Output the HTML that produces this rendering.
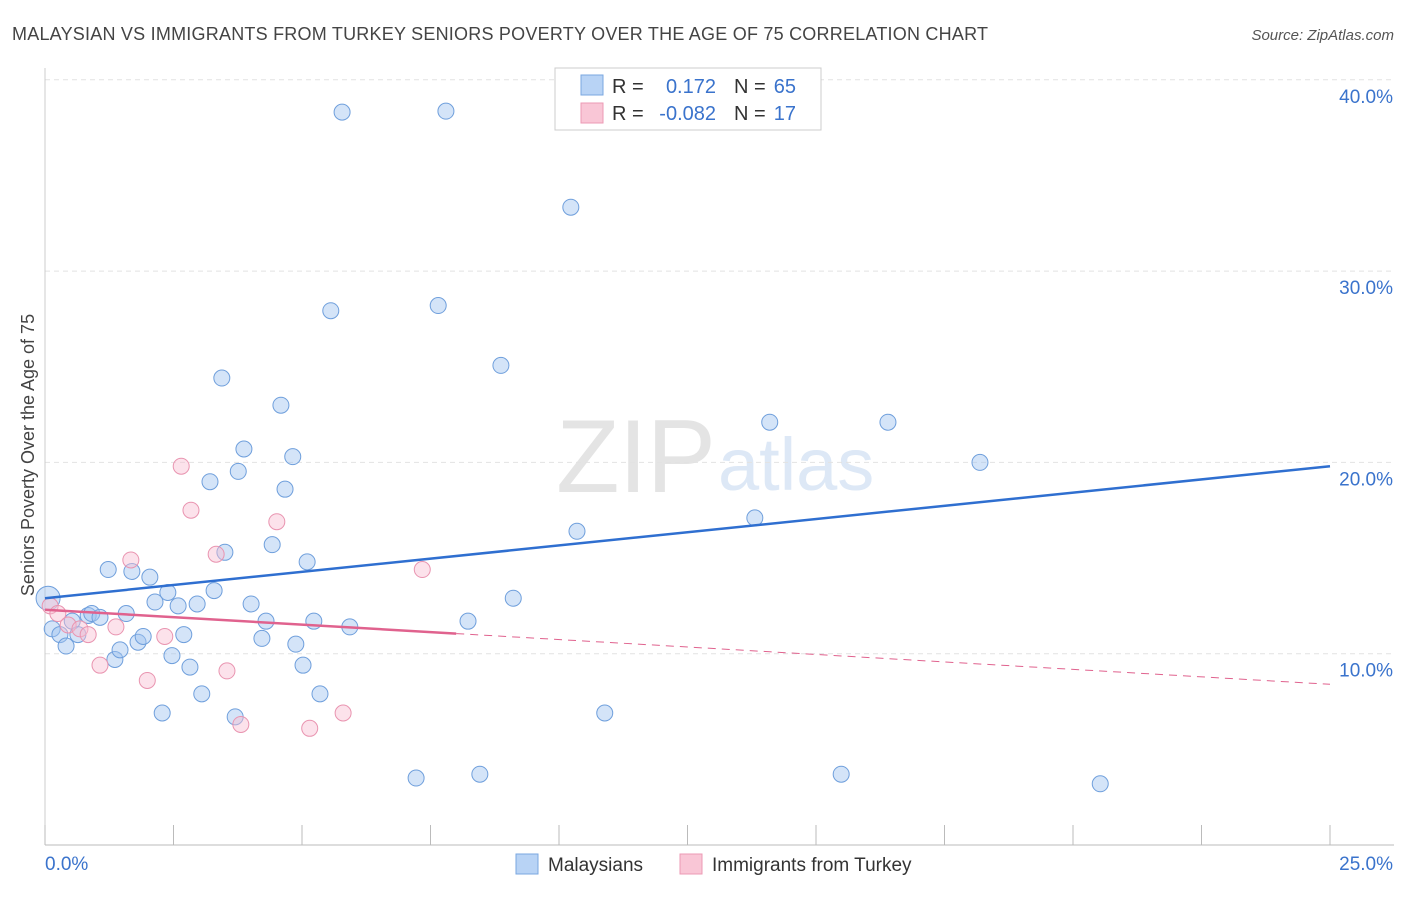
<!DOCTYPE html>
<html><head><meta charset="utf-8">
<style>
body{margin:0;background:#fff;font-family:"Liberation Sans",sans-serif;}
svg text{font-family:"Liberation Sans",sans-serif;}
</style></head>
<body>
<svg id="chart" width="1406" height="892" xmlns="http://www.w3.org/2000/svg">
<text x="12" y="40" font-size="18" fill="#444" textLength="976">MALAYSIAN VS IMMIGRANTS FROM TURKEY SENIORS POVERTY OVER THE AGE OF 75 CORRELATION CHART</text>
<text x="1394" y="40" font-size="15" fill="#555" text-anchor="end" font-style="italic">Source: ZipAtlas.com</text>
<text x="716" y="492" font-size="104" fill="#e4e4e4" text-anchor="end" font-family="Liberation Serif" textLength="160">ZIP</text>
<text x="718" y="490" font-size="74" fill="#dde8f6">atlas</text>
<g id="grid"></g>
<g id="axes"></g>
<g id="marks"></g>
<text transform="translate(34,455) rotate(-90)" font-size="18" fill="#444" text-anchor="middle">Seniors Poverty Over the Age of 75</text>
<g>
<rect x="555" y="68" width="266" height="62" fill="#fff" stroke="#ccc"/>
<rect x="581" y="75" width="22" height="20" fill="#b8d3f5" stroke="#7aa7e0"/>
<rect x="581" y="103" width="22" height="20" fill="#f9c6d6" stroke="#ec9ab4"/>
<text x="612" y="93" font-size="20" fill="#333">R =</text>
<text x="716" y="93" font-size="20" fill="#3a73cc" text-anchor="end">0.172</text>
<text x="734" y="93" font-size="20" fill="#333">N =</text>
<text x="796" y="93" font-size="20" fill="#3a73cc" text-anchor="end">65</text>
<text x="612" y="120" font-size="20" fill="#333">R =</text>
<text x="716" y="120" font-size="20" fill="#3a73cc" text-anchor="end">-0.082</text>
<text x="734" y="120" font-size="20" fill="#333">N =</text>
<text x="796" y="120" font-size="20" fill="#3a73cc" text-anchor="end">17</text>
</g>
<g>
<rect x="516" y="854" width="22" height="20" fill="#b8d3f5" stroke="#7aa7e0"/>
<text x="548" y="871" font-size="19" fill="#333">Malaysians</text>
<rect x="680" y="854" width="22" height="20" fill="#f9c6d6" stroke="#ec9ab4"/>
<text x="712" y="871" font-size="19" fill="#333">Immigrants from Turkey</text>
</g>
</svg>
<script>
const blueX=[0.06,0.14,0.29,0.41,0.53,0.64,0.84,0.91,1.07,1.23,1.36,1.46,1.58,1.69,1.81,1.91,2.04,2.14,2.28,2.39,2.47,2.59,2.70,2.82,2.96,3.05,3.21,3.29,3.44,3.50,3.70,3.76,3.87,4.01,4.22,4.30,4.42,4.59,4.67,4.82,4.88,5.02,5.10,5.23,5.35,5.56,5.78,5.93,7.22,7.65,7.80,8.23,8.46,8.87,9.11,10.23,10.35,10.89,13.81,14.10,15.49,16.40,18.19,20.53];
const blueY=[12.9,11.3,11.0,10.4,11.7,11.0,12.0,12.1,11.9,14.4,9.7,10.2,12.1,14.3,10.6,10.9,14.0,12.7,6.9,13.2,9.9,12.5,11.0,9.3,12.6,7.9,18.99,13.3,24.41,15.3,6.7,19.53,20.7,12.6,10.8,11.7,15.7,22.99,18.6,20.3,10.5,9.4,14.8,11.7,7.9,27.93,38.31,11.4,3.5,28.2,38.36,11.7,3.7,25.07,12.9,33.34,16.4,6.9,17.1,22.1,3.7,22.1,20.0,3.2];
const pinkX=[0.10,0.25,0.45,0.68,0.84,1.07,1.38,1.67,1.99,2.33,2.65,2.84,3.33,3.54,3.81,4.51,5.15,5.80,7.34];
const pinkY=[12.5,12.1,11.5,11.3,11.0,9.4,11.4,14.9,8.6,10.9,19.8,17.5,15.2,9.1,6.3,16.9,6.1,6.9,14.4];
const yTicks=[10,20,30,40];
const yTickLabels=["10.0%","20.0%","30.0%","40.0%"];
const xTickLabels=["0.0%","25.0%"];
const blueTrend=[12.9,19.8];
const pinkTrend=[12.3,8.4];
const NS="http://www.w3.org/2000/svg";
const X=v=>45+v/25*1285, Y=v=>845-v*19.13;
function mk(t,a,p){const e=document.createElementNS(NS,t);for(const k in a)e.setAttribute(k,a[k]);p.appendChild(e);return e;}
const grid=document.getElementById('grid'),axes=document.getElementById('axes'),marks=document.getElementById('marks');
yTicks.forEach((t,i)=>{
 const l=mk('line',{x1:45,x2:1394,y1:Y(t),y2:Y(t),stroke:'#e2e2e2','stroke-dasharray':'5,4'},grid);
 
 
 const tx=mk('text',{x:1393,y:Y(t)+23,'font-size':19,fill:'#3a73cc','text-anchor':'end'},axes);
 tx.textContent=yTickLabels[i];
 
 
});
const ax=mk('line',{x1:45,x2:1394,y1:845,y2:845,stroke:'#bbb'},axes);


const ay=mk('line',{x1:45,x2:45,y1:68,y2:845,stroke:'#ccc'},axes);


for(let i=0;i<=10;i++){
 const tk=mk('line',{x1:X(i*2.5),x2:X(i*2.5),y1:825,y2:845,stroke:'#bbb'},axes);
 
 
}
[[0,45,'start'],[1,1393,'end']].forEach(([i,x,a])=>{
 const t=mk('text',{x:x,y:870,'font-size':19,fill:'#3a73cc','text-anchor':a},axes);
 t.textContent=xTickLabels[i];
 
 
});
blueX.forEach((v,i)=>{
 const c=mk('circle',{cx:X(v),cy:Y(blueY[i]),r:i==0?12:8,fill:'rgba(160,195,240,0.45)',stroke:'#6f9fdc','stroke-width':1},marks);
 
 
});
pinkX.forEach((v,i)=>{
 const c=mk('circle',{cx:X(v),cy:Y(pinkY[i]),r:8,fill:'rgba(248,190,210,0.45)',stroke:'#e994b0','stroke-width':1},marks);
 
 
});
const bt=mk('line',{x1:X(0),y1:Y(blueTrend[0]),x2:X(25),y2:Y(blueTrend[1]),stroke:'#2f6fd0','stroke-width':2.5},marks);


const py=v=>pinkTrend[0]+(pinkTrend[1]-pinkTrend[0])*v/25;
const ps=mk('line',{x1:X(0),y1:Y(py(0)),x2:X(8),y2:Y(py(8)),stroke:'#e0628e','stroke-width':2.5},marks);


const pd=mk('line',{x1:X(8),y1:Y(py(8)),x2:X(25),y2:Y(py(25)),stroke:'#e0628e','stroke-width':1,'stroke-dasharray':'8,6'},marks);


</script>
</body></html>
